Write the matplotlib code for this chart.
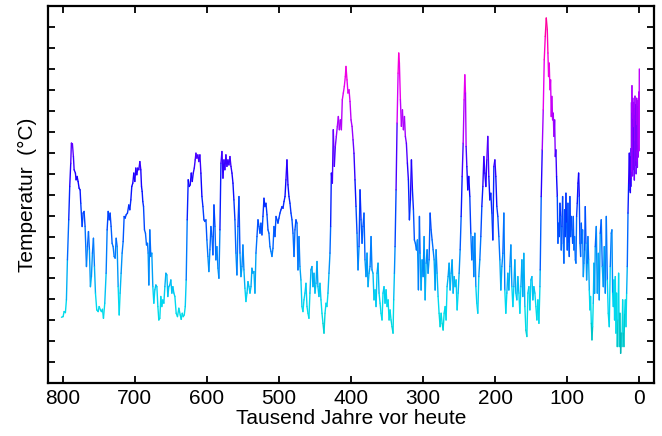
import numpy as np
import matplotlib
matplotlib.use("Agg")
import matplotlib.pyplot as plt
from matplotlib.collections import LineCollection
from matplotlib.colors import LinearSegmentedColormap, Normalize
from matplotlib.ticker import MultipleLocator

plt.rcParams['font.family'] = ['Liberation Sans', 'DejaVu Sans']

# (Tausend Jahre vor heute, Temperatur in °C)
abschnitt_800_640 = [
    (801.8, -8.85), (799.5, -8.82), (798.1, -8.58), (796.3, -8.63), (794.9, -8.02),
    (793.5, -6.11), (791.7, -4.20), (790.3, -2.61), (788.9, -1.50), (788.0, -0.54),
    (786.6, -0.57), (785.2, -1.18), (784.2, -1.81), (782.4, -1.97), (781.5, -2.29),
    (780.1, -2.13), (778.7, -2.37), (777.3, -2.69), (775.9, -2.77), (775.0, -3.41),
    (773.1, -4.52), (771.7, -3.88), (770.4, -3.80), (769.0, -4.52), (767.1, -6.43),
    (765.7, -5.48), (764.3, -4.76), (763.0, -5.63), (761.6, -7.39), (760.2, -6.91),
    (758.8, -5.79), (757.4, -5.08), (756.0, -6.43), (754.6, -7.70), (752.8, -8.50),
    (750.9, -8.58), (749.5, -8.34), (747.7, -8.50), (746.3, -8.58), (744.9, -8.47),
    (743.5, -8.90), (741.7, -8.18), (739.8, -6.75), (738.4, -4.68), (737.0, -3.80),
    (735.6, -4.20), (734.3, -3.88), (732.9, -4.52), (731.5, -5.32), (730.1, -5.48),
    (728.7, -5.95), (727.3, -6.03), (725.9, -5.08), (724.5, -5.48), (723.1, -7.39),
    (721.7, -8.74), (720.4, -7.70), (719.0, -6.75), (717.6, -5.79), (716.2, -5.24),
    (714.8, -4.04), (713.4, -4.12), (712.0, -3.96), (710.2, -3.88), (708.3, -3.49),
    (706.9, -3.72), (705.5, -3.25), (704.2, -2.61), (702.8, -2.45), (701.4, -1.97),
    (700.0, -2.37), (698.6, -1.73), (697.2, -2.05), (695.8, -1.73), (694.4, -1.81),
    (693.0, -1.42), (691.7, -1.81), (690.7, -2.61), (689.8, -2.85), (688.9, -3.33),
    (687.9, -3.57), (686.6, -4.68), (685.2, -4.84), (683.8, -5.40), (682.4, -5.32),
    (681.5, -5.79), (680.5, -7.31), (679.2, -4.68), (677.8, -5.95), (676.4, -5.79),
    (675.0, -7.39), (673.6, -8.18), (672.2, -7.54), (670.8, -7.31), (669.4, -7.39),
    (668.0, -8.34), (666.7, -8.98), (665.3, -8.90), (663.9, -7.86), (662.5, -8.34),
    (661.1, -8.02), (659.7, -8.18), (658.3, -7.39), (656.9, -6.75), (655.5, -6.83),
    (654.2, -7.86), (652.8, -7.39), (651.4, -7.31), (650.0, -7.07), (648.6, -7.70),
    (647.2, -7.39), (645.8, -7.70), (644.4, -7.86), (642.6, -8.66), (640.8, -8.82),
    (638.9, -8.42),
]

abschnitt_640_475 = [
    (637.0, -8.74), (635.6, -8.95), (634.2, -8.66), (632.8, -8.82), (631.4, -8.74),
    (630.0, -8.34), (628.7, -7.07), (627.3, -4.20), (625.9, -2.29), (624.5, -2.61),
    (623.1, -2.53), (621.7, -1.97), (620.3, -2.37), (618.9, -1.97), (617.5, -1.73),
    (616.2, -1.34), (615.2, -1.02), (613.8, -1.26), (612.5, -1.10), (611.1, -1.42),
    (609.7, -1.10), (608.3, -1.97), (606.9, -3.09), (605.5, -3.57), (604.1, -4.20),
    (602.7, -4.28), (601.3, -4.20), (600.0, -5.16), (598.6, -5.95), (597.2, -6.67),
    (595.8, -5.63), (594.4, -4.52), (593.0, -5.00), (591.6, -5.87), (590.2, -3.49),
    (588.8, -4.52), (587.5, -6.11), (586.1, -5.48), (584.7, -6.51), (583.3, -6.99),
    (581.9, -4.68), (580.5, -1.50), (579.1, -0.94), (577.7, -2.21), (576.3, -1.34),
    (575.0, -1.81), (573.6, -1.10), (572.2, -1.65), (570.8, -1.34), (569.4, -1.58),
    (568.0, -1.18), (566.6, -1.65), (565.2, -1.97), (563.8, -2.45), (562.5, -3.25),
    (561.1, -4.20), (559.7, -5.79), (558.3, -6.83), (556.9, -4.52), (555.5, -3.09),
    (554.1, -5.79), (552.7, -6.91), (551.3, -6.43), (550.0, -5.40), (548.6, -6.59),
    (547.2, -7.47), (545.8, -8.10), (544.4, -7.70), (543.0, -7.15), (541.6, -7.39),
    (540.2, -7.70), (538.8, -7.39), (537.5, -6.51), (536.1, -6.75), (534.7, -6.67),
    (533.3, -7.70), (531.9, -5.79), (530.5, -5.00), (529.1, -4.20), (527.7, -4.52),
    (526.3, -4.84), (525.0, -4.36), (523.6, -4.92), (522.2, -4.04), (520.8, -3.17),
    (519.4, -3.57), (518.0, -3.41), (516.6, -3.96), (515.2, -4.68), (513.9, -4.84),
    (512.5, -5.48), (511.1, -5.71), (509.7, -5.95), (508.3, -5.56), (506.9, -4.52),
    (505.5, -5.00), (504.1, -4.04), (502.7, -4.20), (501.4, -4.36), (500.0, -4.12),
    (498.6, -3.88), (497.2, -3.72), (495.8, -3.57), (494.4, -3.65), (493.0, -3.33),
    (491.6, -3.09), (490.3, -2.29), (488.9, -1.34), (487.5, -2.53), (486.1, -3.09),
    (484.7, -3.41), (483.3, -3.88), (481.9, -4.20), (480.5, -4.84), (479.1, -5.95),
    (477.8, -4.68), (476.4, -4.20), (475.0, -4.36), (473.6, -6.59),
]

abschnitt_475_305 = [
    (472.2, -5.00), (470.9, -6.43), (469.5, -7.07), (468.1, -8.34), (466.7, -8.58),
    (465.3, -8.02), (463.9, -7.70), (462.5, -7.23), (461.1, -8.34), (459.7, -8.66),
    (458.4, -8.90), (457.0, -7.70), (455.6, -6.59), (454.2, -6.43), (452.8, -7.39),
    (451.4, -6.75), (450.0, -7.70), (448.6, -7.23), (447.2, -6.19), (445.9, -7.39),
    (444.5, -7.86), (443.1, -7.23), (441.7, -8.02), (440.3, -8.66), (438.9, -9.14),
    (437.5, -9.61), (436.1, -8.66), (434.7, -8.18), (433.4, -8.34), (432.0, -7.70),
    (430.6, -6.75), (429.2, -5.79), (428.3, -4.52), (427.3, -1.97), (425.9, -2.45),
    (424.6, 0.10), (423.2, -1.65), (421.8, -0.70), (420.4, -0.22), (419.0, 0.26),
    (417.6, 0.73), (416.2, 0.10), (414.8, 0.57), (413.4, 0.10), (412.1, 1.53),
    (410.7, 1.85), (409.3, 2.17), (407.9, 2.64), (407.0, 3.12), (405.6, 2.48),
    (404.2, 1.85), (402.8, 2.01), (401.4, 1.45), (400.0, 0.57), (398.6, 0.26),
    (397.2, -0.38), (395.9, -1.02), (394.5, -2.29), (393.1, -3.56), (391.7, -4.84),
    (390.3, -6.59), (388.9, -5.48), (387.5, -2.77), (386.1, -4.20), (384.7, -5.32),
    (383.4, -4.52), (382.0, -3.88), (380.6, -6.11), (379.2, -6.91), (377.8, -5.79),
    (376.4, -7.39), (375.0, -6.75), (373.6, -6.43), (372.2, -5.00), (370.9, -6.59),
    (369.5, -6.75), (368.1, -8.02), (366.7, -7.54), (365.3, -8.34), (363.9, -6.75),
    (362.5, -6.27), (361.1, -7.70), (359.7, -8.18), (358.4, -8.66), (357.0, -8.98),
    (355.6, -7.70), (354.2, -7.39), (352.8, -8.18), (351.4, -7.54), (350.0, -8.34),
    (348.6, -8.02), (347.2, -8.98), (345.9, -8.50), (344.5, -8.98), (343.1, -9.30),
    (341.7, -9.61), (340.8, -8.02), (339.8, -6.75), (338.9, -5.48), (337.5, -2.77),
    (336.1, 0.42), (334.7, 2.80), (333.8, 3.76), (332.9, 3.28), (331.5, 1.53),
    (330.1, 0.26), (328.7, 1.05), (327.3, 0.10), (325.9, 0.73), (324.6, -0.22),
    (323.2, -0.54), (321.8, -1.49), (320.4, -2.29), (319.0, -4.20), (317.6, -3.25),
    (316.2, -1.34), (314.8, -2.77), (313.4, -3.72), (312.1, -5.16), (310.7, -5.32),
    (309.3, -5.64), (307.9, -5.16), (306.5, -7.54), (305.1, -4.04),
]

abschnitt_305_138 = [
    (304.2, -5.80), (302.8, -7.55), (301.4, -6.11), (300.0, -6.91), (298.6, -5.00),
    (297.2, -8.02), (295.8, -6.27), (294.4, -5.63), (293.1, -6.75), (291.7, -6.11),
    (290.3, -3.88), (288.9, -4.68), (287.5, -5.16), (286.1, -5.63), (284.7, -6.11),
    (283.3, -7.55), (282.0, -5.63), (280.6, -6.75), (279.2, -7.86), (277.8, -8.66),
    (276.4, -9.30), (275.0, -8.66), (273.6, -9.14), (272.2, -9.46), (270.8, -8.66),
    (269.4, -8.34), (268.1, -8.98), (266.7, -7.39), (265.3, -6.91), (263.9, -6.27),
    (262.5, -7.55), (261.1, -6.75), (259.7, -6.11), (258.3, -7.70), (256.9, -6.91),
    (255.6, -7.39), (254.2, -7.07), (252.8, -8.50), (251.4, -7.70), (250.0, -6.75),
    (248.6, -5.63), (247.2, -4.04), (245.8, -2.13), (244.4, -0.54), (243.1, 1.53),
    (242.1, 2.72), (241.2, 1.85), (240.3, -0.70), (239.3, -1.66), (238.0, -2.77),
    (236.6, -2.13), (235.2, -3.09), (233.8, -4.84), (232.4, -6.11), (231.0, -5.00),
    (229.6, -6.91), (228.2, -4.84), (226.8, -7.39), (225.5, -8.18), (224.1, -8.66),
    (222.7, -6.91), (221.3, -6.11), (219.9, -5.00), (218.5, -3.56), (217.1, -2.61),
    (215.7, -1.18), (214.3, -1.97), (212.9, -2.61), (211.6, -1.34), (210.2, -0.22),
    (208.8, -2.13), (207.4, -3.25), (206.0, -2.93), (204.6, -3.88), (203.2, -5.16),
    (201.8, -1.66), (200.4, -1.34), (199.1, -2.13), (197.7, -3.56), (196.3, -4.04),
    (194.9, -5.00), (193.5, -6.11), (192.1, -7.55), (190.7, -6.43), (189.3, -5.80),
    (187.9, -3.88), (186.6, -7.55), (185.2, -8.66), (183.8, -7.70), (182.4, -6.75),
    (181.0, -7.55), (179.6, -6.43), (178.2, -5.40), (176.8, -7.39), (175.4, -8.34),
    (174.1, -7.39), (172.7, -6.11), (171.3, -7.70), (169.9, -8.02), (168.5, -6.91),
    (167.1, -7.70), (165.7, -8.66), (164.3, -7.39), (162.9, -6.11), (161.6, -7.86),
    (160.2, -5.80), (158.8, -8.34), (157.4, -9.46), (156.0, -9.77), (154.6, -7.70),
    (153.2, -7.39), (151.8, -8.50), (150.4, -7.07), (149.0, -6.91), (147.7, -8.02),
    (146.3, -7.39), (144.9, -7.70), (143.5, -8.34), (142.1, -8.98), (140.7, -8.02),
    (139.3, -9.14), (137.9, -7.39),
]

abschnitt_138_62 = [
    (137.5, -6.59), (136.1, -3.09), (134.7, -0.86), (133.3, 1.05), (131.9, 3.44),
    (130.5, 4.55), (129.1, 5.43), (127.7, 4.87), (126.8, 3.76), (125.9, 2.64),
    (125.0, 3.28), (124.0, 2.01), (123.1, 2.48), (122.2, 0.73), (121.3, 1.69),
    (120.3, 0.57), (119.4, 0.89), (118.5, -0.22), (117.5, 0.57), (116.6, -1.18),
    (115.7, -0.86), (114.8, -2.13), (113.8, -3.09), (112.9, -5.32), (112.0, -4.36),
    (111.1, -5.00), (110.1, -3.41), (109.2, -4.04), (108.3, -5.64), (107.4, -4.52),
    (106.4, -3.09), (105.5, -5.32), (104.6, -6.27), (103.7, -3.72), (102.7, -5.00),
    (101.8, -2.93), (100.9, -4.36), (100.0, -5.64), (99.0, -3.41), (98.1, -5.32),
    (97.2, -5.95), (96.3, -3.09), (95.3, -5.00), (94.4, -4.04), (93.5, -4.68),
    (92.5, -5.32), (91.6, -4.04), (90.7, -5.64), (89.8, -5.00), (88.8, -6.11),
    (87.9, -6.27), (87.0, -4.04), (86.1, -3.41), (85.1, -2.45), (84.2, -1.97),
    (83.3, -3.09), (82.4, -5.32), (81.4, -5.95), (80.5, -4.36), (79.6, -5.32),
    (78.7, -4.68), (77.7, -6.91), (76.8, -6.27), (75.9, -5.64), (75.0, -3.57),
    (74.0, -5.32), (73.1, -7.07), (72.2, -6.27), (71.3, -5.00), (70.3, -6.11),
    (69.4, -7.55), (68.5, -8.50), (67.6, -7.86), (66.6, -9.14), (65.7, -9.93),
    (64.8, -9.30), (63.9, -8.18), (62.9, -6.27), (62.0, -7.71),
]

abschnitt_62_0 = [
    (61.1, -5.48), (59.7, -4.52), (58.3, -7.70), (56.9, -5.80), (55.6, -8.02),
    (54.2, -4.84), (52.8, -4.20), (51.4, -6.43), (50.0, -7.39), (48.6, -5.48),
    (47.2, -7.70), (45.8, -4.04), (44.4, -7.07), (43.1, -8.66), (41.7, -9.30),
    (40.3, -6.43), (38.9, -4.84), (38.0, -4.68), (37.0, -7.70), (36.1, -8.34),
    (35.2, -7.07), (34.3, -8.98), (33.3, -6.91), (32.4, -9.61), (31.5, -7.70),
    (30.6, -10.25), (29.6, -8.98), (28.7, -6.75), (27.8, -10.25), (26.9, -8.66),
    (25.9, -10.57), (25.0, -9.61), (24.1, -10.25), (23.1, -8.02), (22.2, -9.61),
    (21.3, -10.25), (20.4, -8.66), (19.4, -8.02), (18.5, -9.30), (17.6, -7.70),
    (16.7, -6.43), (15.7, -3.88), (14.8, -2.45), (13.9, -1.02), (13.0, -2.77),
    (12.4, -2.9), (12.0, -1.2), (11.7, -2.6), (11.4, -0.8), (11.1, -2.2),
    (10.8, 1.4), (10.5, -1.9), (10.2, 2.2), (9.9, -1.2), (9.6, 0.9),
    (9.3, -2.1), (9.0, 1.6), (8.7, -0.9), (8.4, 0.6), (8.1, -1.8),
    (7.8, 1.4), (7.5, -1.3), (7.2, 0.2), (6.9, -2.3), (6.6, 1.1),
    (6.3, -0.4), (6.0, 1.7), (5.7, -1.6), (5.4, 0.8), (5.1, -1.0),
    (4.8, 1.3), (4.5, -2.0), (4.2, 0.5), (3.9, -1.4), (3.6, 1.6),
    (3.3, -0.8), (3.0, 0.3), (2.7, -1.7), (2.4, 1.2), (2.1, -0.6),
    (1.8, 1.5), (1.5, -1.2), (1.2, 1.0), (0.9, -0.3), (0.6, 1.9),
    (0.3, -0.9), (0.0, 3.0),
]

daten = (abschnitt_800_640 + abschnitt_640_475 + abschnitt_475_305
         + abschnitt_305_138 + abschnitt_138_62 + abschnitt_62_0)
alter = np.array([p[0] for p in daten])
temp = np.array([p[1] for p in daten])

# Farbverlauf: tuerkis (kalt) -> blau -> violett -> magenta (warm)
farben = LinearSegmentedColormap.from_list("eis", [
    (0.00, (0.00, 0.62, 0.62)),
    (0.037, (0.00, 0.72, 0.72)),
    (0.10, (0.00, 0.86, 0.90)),
    (0.16, (0.00, 0.85, 0.95)),
    (0.224, (0.00, 0.68, 0.96)),
    (0.317, (0.00, 0.45, 1.00)),
    (0.41, (0.00, 0.25, 1.00)),
    (0.503, (0.05, 0.00, 1.00)),
    (0.596, (0.32, 0.00, 1.00)),
    (0.66, (0.62, 0.00, 1.00)),
    (0.79, (0.90, 0.00, 0.95)),
    (0.90, (1.00, 0.00, 0.80)),
    (1.00, (1.00, 0.00, 0.55)),
])

fig = plt.figure(figsize=(6.62, 4.36), dpi=100)
ax = fig.add_axes([0.073, 0.121, 0.9145, 0.865])

punkte = np.column_stack([alter, temp]).reshape(-1, 1, 2)
segmente = np.concatenate([punkte[:-1], punkte[1:]], axis=1)
lc = LineCollection(segmente, cmap=farben, norm=Normalize(-10.6, 5.5),
                    linewidths=1.0, capstyle='round', joinstyle='round')
lc.set_array((temp[:-1] + temp[1:]) / 2)
ax.add_collection(lc)

ax.set_xlim(820, -20)
ax.set_ylim(-12, 6)
ax.xaxis.set_major_locator(MultipleLocator(100))
ax.yaxis.set_major_locator(MultipleLocator(1))
ax.tick_params(direction='in', top=True, right=True, length=5, width=1.3,
               labelsize=15, pad=4, labelleft=False)
for s in ax.spines.values():
    s.set_linewidth(1.6)

ax.set_xlabel("Tausend Jahre vor heute", fontsize=15, labelpad=1)
ax.set_ylabel("Temperatur  (°C)", fontsize=15, labelpad=8)

fig.savefig("out.png", dpi=100)
